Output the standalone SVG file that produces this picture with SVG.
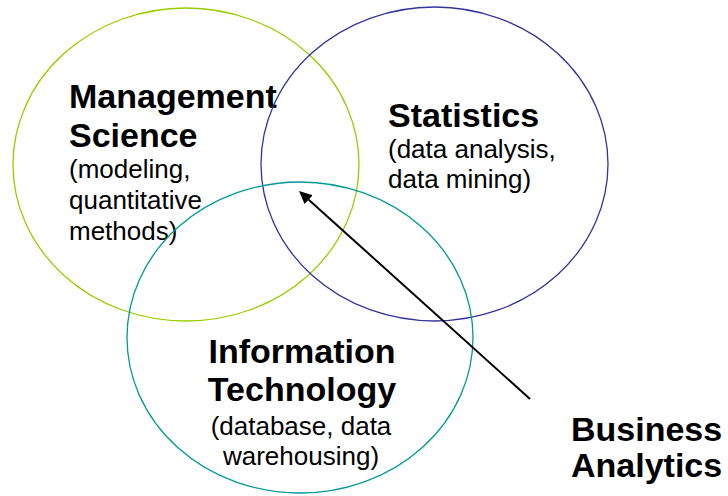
<svg xmlns="http://www.w3.org/2000/svg" width="728" height="496" viewBox="0 0 728 496">
<style>
.c{fill:none;stroke-width:1.3}
.h{font-family:"Liberation Sans",Arial,sans-serif;font-weight:bold;font-size:34px;fill:#000}
.s{font-family:"Liberation Sans",Arial,sans-serif;font-size:26px;fill:#000}
.m{text-anchor:middle}
</style>
<defs>
<marker id="ah" viewBox="0 0 13 12" refX="0" refY="6" markerWidth="13" markerHeight="12" markerUnits="userSpaceOnUse" orient="auto">
<path d="M0,0 L13,6 L0,12 z" fill="#000"/>
</marker>
</defs>
<rect width="728" height="496" fill="#fff"/>
<g id="management-science">
<ellipse class="c" cx="186" cy="164.5" rx="173" ry="156.5" stroke="#99CC00"/>
<text class="h" x="69" y="108">Management</text>
<text class="h" x="69" y="147">Science</text>
<text class="s" x="69" y="178">(modeling,</text>
<text class="s" x="69" y="209">quantitative</text>
<text class="s" x="69" y="240">methods)</text>
</g>
<g id="statistics">
<ellipse class="c" cx="434.5" cy="164" rx="173.5" ry="157" stroke="#333399"/>
<text class="h" x="388" y="127">Statistics</text>
<text class="s" x="388" y="158">(data analysis,</text>
<text class="s" x="388" y="188">data mining)</text>
</g>
<g id="information-technology">
<ellipse class="c" cx="300" cy="337.5" rx="173" ry="155.5" stroke="#009999"/>
<text class="h m" x="302" y="363">Information</text>
<text class="h m" x="302" y="401">Technology</text>
<text class="s m" x="301" y="435">(database, data</text>
<text class="s m" x="301" y="465">warehousing)</text>
</g>
<g id="business-analytics">
<text class="h" x="571" y="441">Business</text>
<text class="h" x="571" y="477">Analytics</text>
</g>
<g id="connectors">
<line x1="530" y1="399" x2="308.7" y2="199.7" stroke="#000" stroke-width="2" marker-end="url(#ah)"/>
</g>
</svg>
